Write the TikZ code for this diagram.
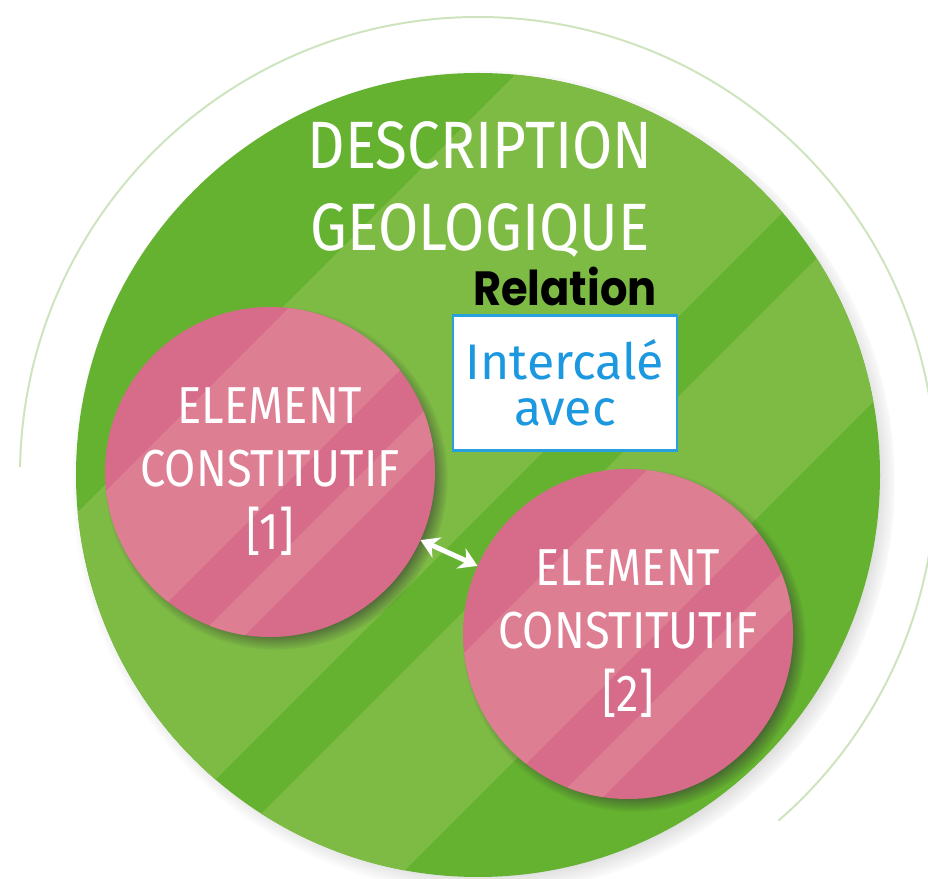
\documentclass[tikz,border=0pt]{standalone}
\usepackage{fontspec}
\usepackage{tikz}
\usetikzlibrary{arrows.meta,positioning,shadows,fadings,calc}
\setmainfont{Fira Sans}
\newfontfamily\handfont[FakeStretch=0.87]{Fira Sans}
\newfontfamily\relfont[FakeStretch=0.9]{Poppins}
\definecolor{greendark}{RGB}{100,178,47}
\definecolor{greenlight}{RGB}{126,187,69}
\definecolor{ringgreen}{RGB}{206,228,190}
\definecolor{pinkdark}{RGB}{214,108,137}
\definecolor{pinklight}{RGB}{221,126,147}
\definecolor{boxblue}{RGB}{40,160,222}
\definecolor{textblue}{RGB}{28,152,224}

\begin{document}
\begin{tikzpicture}[x=1pt,y=1pt]
        \tikzset{disc/.style = {shape=circle,minimum size=804pt,inner sep=0pt,fill=greendark,
            circular drop shadow={shadow xshift=6pt,shadow yshift=-6pt,shadow scale=1.025,opacity=.55,fill=black!70},
            path picture={\foreach \a/\b in {-363/42, 122/322}
                \fill[greenlight] ($(path picture bounding box.center)+(\a-500,-500)$) -- ($(path picture bounding box.center)+(\a+500,500)$)
                    -- ($(path picture bounding box.center)+(\b+500,500)$) -- ($(path picture bounding box.center)+(\b-500,-500)$) -- cycle;}}}
        \tikzset{element/.style = {shape=circle,minimum size=330pt,inner sep=0pt,fill=pinkdark,
            text=white,align=center,font=\handfont\fontsize{52}{63}\selectfont,
            circular drop shadow={shadow xshift=6pt,shadow yshift=-6pt,shadow scale=1.04,opacity=.9,fill=black!80},
            path picture={\foreach \a/\b in {-145/28, 93/138}
                \fill[pinklight] ($(path picture bounding box.center)+(\a-400,-400)$) -- ($(path picture bounding box.center)+(\a+400,400)$)
                    -- ($(path picture bounding box.center)+(\b+400,400)$) -- ($(path picture bounding box.center)+(\b-400,-400)$) -- cycle;}}}
        \tikzset{relbox/.style = {draw=boxblue,line width=2.5pt,fill=white,minimum width=224pt,minimum height=135pt,
            text=textblue,align=center,font=\fontsize{50}{46}\selectfont}}
        \tikzset{link/.style = {{Stealth[length=18pt,width=22pt]}-{Stealth[length=18pt,width=22pt]},white,line width=5pt}}
        \useasboundingbox (0,0) rectangle (928,878);
        % background
        \draw[ringgreen, line width=2pt] (478,403) ++(179:458) arc (179:-49:458);
        \node[disc] (disc) at (478,403) {};
        % vertices
        \node[text=white, align=center, font=\handfont\fontsize{67}{82}\selectfont] (title) at (480,689) {DESCRIPTION\\GEOLOGIQUE};
        \node[relbox] (rel) at (565,495) {Intercalé\\avec};
        \node[inner sep=0pt, font=\relfont\bfseries\fontsize{48}{48}\selectfont, above=8pt of rel] (reltitle) {Relation};
        \node[element] (el1) at (270,406) {ELEMENT\\CONSTITUTIF\\{[1]}};
        \node[element] (el2) at (628,244) {ELEMENT\\CONSTITUTIF\\{[2]}};
        %edges
        \draw[link] (el1) -- (el2);
\end{tikzpicture}
\end{document}
